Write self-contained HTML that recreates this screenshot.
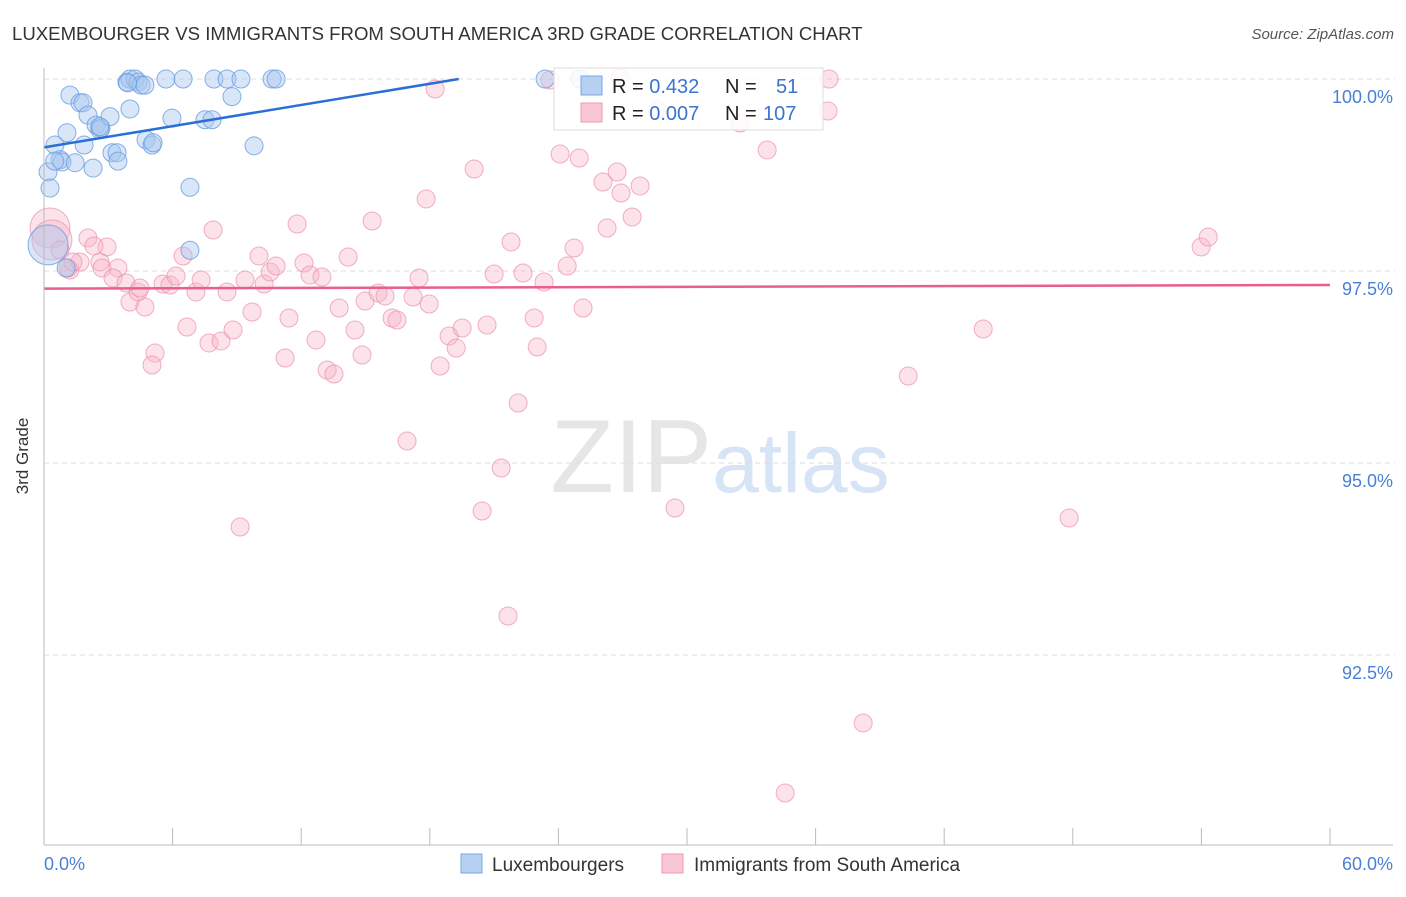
<!DOCTYPE html>
<html><head><meta charset="utf-8"><style>
body{margin:0;background:#fff;font-family:"Liberation Sans",sans-serif;}
svg text{font-family:"Liberation Sans",sans-serif;}
</style></head><body>
<svg width="1406" height="892" id="chart">
<text x="12" y="40" font-size="18.6" fill="#333">LUXEMBOURGER VS IMMIGRANTS FROM SOUTH AMERICA 3RD GRADE CORRELATION CHART</text>
<text x="1394" y="39" font-size="15" fill="#555" text-anchor="end" font-style="italic">Source: ZipAtlas.com</text>
<text x="720" y="492" font-size="104" fill="#e6e6e6" text-anchor="middle" font-family="Liberation Serif">ZIP<tspan fill="#d6e4f5" font-family="Liberation Sans" font-size="84">atlas</tspan></text>
<g id="grid"></g>
<g id="pts"></g>
<g id="lines"></g>
<line x1="44" y1="68" x2="44" y2="845" stroke="#bbb"/>
<line x1="44" y1="845" x2="1393" y2="845" stroke="#bbb"/>
<text x="28" y="456" font-size="17" fill="#333" text-anchor="middle" transform="rotate(-90 28 456)">3rd Grade</text>
<text x="44" y="870" font-size="18" fill="#4a7fd6">0.0%</text>
<text x="1393" y="870" font-size="18" fill="#4a7fd6" text-anchor="end">60.0%</text>
<g>
<rect x="554" y="68" width="269" height="62" fill="#fff" fill-opacity="0.85" stroke="#ddd"/>
<rect x="581" y="76" width="21" height="19" fill="#b7d0f2" stroke="#7aa6e6"/>
<rect x="581" y="103" width="21" height="19" fill="#f9c6d4" stroke="#ee9ab3"/>
<text x="612" y="93" font-size="20" fill="#222">R = <tspan fill="#3a74d0">0.432</tspan><tspan x="725">N =</tspan><tspan x="776" fill="#3a74d0">51</tspan></text>
<text x="612" y="120" font-size="20" fill="#222">R = <tspan fill="#3a74d0">0.007</tspan><tspan x="725">N =</tspan><tspan x="763" fill="#3a74d0">107</tspan></text>
</g>
<g>
<rect x="461" y="854" width="21" height="19" fill="#b7d0f2" stroke="#7aa6e6"/>
<text x="492" y="871" font-size="19" fill="#333">Luxembourgers</text>
<rect x="662" y="854" width="21" height="19" fill="#f9c6d4" stroke="#ee9ab3"/>
<text x="694" y="871" font-size="19" fill="#333">Immigrants from South America</text>
</g>
</svg>
<script>
const yTicks=[100,97.5,95,92.5];
const yTickLabels=["100.0%","97.5%","95.0%","92.5%"];
const xTicks=[0,6,12,18,24,30,36,42,48,54,60];
const blueX=[1.21,1.68,1.82,2.05,2.43,2.61,1.07,0.51,0.19,0.28,0.75,0.84,1.45,2.29,1.87,2.66,3.08,3.17,3.41,3.45,4.01,3.87,4.01,4.25,4.39,4.53,4.71,5.69,6.49,7.93,8.54,9.19,8.77,10.64,10.83,5.97,7.51,7.84,4.76,5.04,5.09,9.80,6.81,6.81,1.03,0.19,23.38,25.01,0.5,2.6,3.9];
const blueY=[99.79,99.69,99.69,99.53,99.40,99.34,99.30,99.14,98.79,98.58,98.95,98.92,98.91,98.84,99.14,99.36,99.51,99.04,99.04,98.93,99.61,99.96,100,100,99.96,99.92,99.92,100,100,100,100,100,99.77,100,100,99.49,99.47,99.47,99.21,99.14,99.17,99.13,98.59,97.77,97.54,97.84,100,100,98.93,99.38,99.95];
const pinkPx=[[50,228],[52,240],[60,250],[70,270],[68,268],[88,238],[80,262],[100,262],[107,247],[102,268],[118,268],[113,278],[126,283],[130,302],[138,292],[145,307],[155,353],[152,365],[163,284],[170,285],[176,276],[183,256],[187,327],[196,292],[201,280],[209,343],[213,230],[221,341],[227,292],[233,330],[240,527],[245,280],[252,312],[259,256],[264,284],[270,272],[276,266],[285,358],[289,318],[297,224],[304,263],[310,275],[316,340],[322,277],[327,370],[334,374],[339,308],[348,257],[355,330],[362,355],[365,301],[372,221],[378,293],[385,296],[392,318],[397,320],[407,441],[413,297],[419,278],[426,199],[429,304],[435,89],[440,366],[449,336],[456,348],[462,328],[474,169],[482,511],[487,325],[494,274],[501,468],[508,616],[511,242],[518,403],[523,273],[534,318],[537,347],[544,282],[560,154],[567,266],[574,248],[579,158],[583,308],[603,182],[607,228],[617,172],[621,193],[632,217],[640,186],[620,78],[675,508],[740,123],[767,150],[785,793],[829,79],[828,111],[863,723],[908,376],[983,329],[1069,518],[1201,247],[1208,237],[550,80],[657,110],[73,262],[94,246],[140,288]];
const pinkX=pinkPx.map(p=>+((p[0]-44)/21.43).toFixed(2));
const pinkY=pinkPx.map(p=>+(100-(p[1]-79)/76.8).toFixed(3));
const blueTrend=[99.11,0.046];
const pinkTrend=[97.27,0.0008];
const X=v=>44+v*(1286/60);
const Y=v=>79+(100-v)*76.8;
const NS='http://www.w3.org/2000/svg';
function mk(t,a,p){const e=document.createElementNS(NS,t);for(const k in a)e.setAttribute(k,a[k]);p.appendChild(e);return e;}
const grid=document.getElementById('grid');
yTicks.forEach((v,i)=>{
 const l=mk('line',{x1:44,x2:1395,y1:Y(v),y2:Y(v),stroke:'#ddd','stroke-dasharray':'5,4'},grid);
 
 
 const t=mk('text',{x:1393,y:Y(v)+24,'font-size':18,fill:'#4a7fd6','text-anchor':'end'},grid);
 t.textContent=yTickLabels[i];
 
 
});
xTicks.forEach(v=>{
 const l=mk('line',{x1:X(v),x2:X(v),y1:828,y2:845,stroke:'#bbb'},grid);
 
 
});
const pts=document.getElementById('pts');
pinkX.forEach((x,i)=>{
 const r=(i<2)?20:9;
 const c=mk('circle',{cx:X(x),cy:Y(pinkY[i]),r:r,fill:'#f7b6c9','fill-opacity':0.4,stroke:'#ec8fac','stroke-opacity':0.7},pts);
 
 
});
blueX.forEach((x,i)=>{
 const r=(i===45)?20:9;
 const c=mk('circle',{cx:X(x),cy:Y(blueY[i]),r:r,fill:'#a9c8ef','fill-opacity':0.45,stroke:'#6a9ce0','stroke-opacity':0.8},pts);
 
 
});
const lines=document.getElementById('lines');
const bx1=(100-blueTrend[0])/blueTrend[1];
const bl=mk('line',{x1:X(0),y1:Y(blueTrend[0]),x2:X(bx1),y2:Y(100),stroke:'#2a6fd6','stroke-width':2.5},lines);


const pl=mk('line',{x1:X(0),y1:Y(pinkTrend[0]),x2:X(60),y2:Y(pinkTrend[0]+60*pinkTrend[1]),stroke:'#e85f8c','stroke-width':2.5},lines);


</script>
</body></html>
